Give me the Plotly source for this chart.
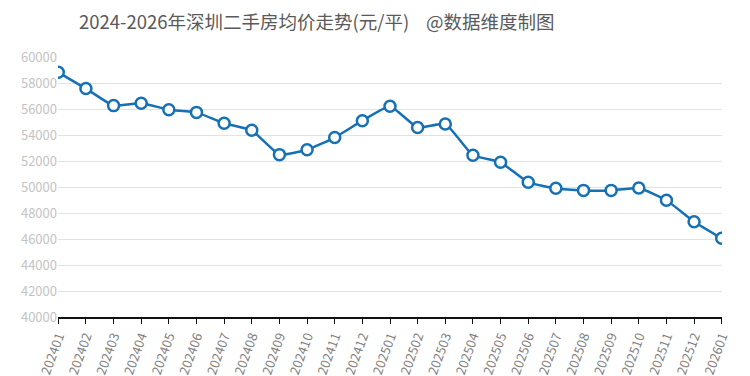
import plotly.graph_objects as go

months = ["202401","202402","202403","202404","202405","202406","202407","202408",
          "202409","202410","202411","202412","202501","202502","202503","202504",
          "202505","202506","202507","202508","202509","202510","202511","202512","202601"]
prices = [58820, 57570, 56260, 56440, 55950, 55740, 54900, 54360,
          52490, 52870, 53800, 55100, 56210, 54570, 54850, 52440,
          51900, 50360, 49900, 49740, 49740, 49920, 48980, 47330, 46050]
y_ticks = list(range(40000, 60001, 2000))
y_labels = [str(v) for v in y_ticks]
title_text = "2024-2026年深圳二手房均价走势(元/平)    @数据维度制图"

fig = go.Figure(go.Scatter(
    x=months, y=prices, mode="lines+markers",
    line=dict(color="#1570b5", width=2.5, shape="spline", smoothing=0.4),
    marker=dict(symbol="circle", size=11, color="white",
                line=dict(color="#1570b5", width=2.5)),
    hoverinfo="x+y",
))

fig.update_layout(
    width=750, height=376,
    margin=dict(l=58, r=28, t=57, b=59, autoexpand=False),
    paper_bgcolor="white", plot_bgcolor="white",
    font=dict(family="Noto Sans CJK SC, Noto Sans, sans-serif"),
    showlegend=False,
    title=dict(text=title_text, x=79/750, xanchor="left", y=1-23/376, yanchor="middle",
               font=dict(size=18.5, color="#5a5a5a")),
    xaxis=dict(type="category", showgrid=False, showline=True, linecolor="#111111", linewidth=1.5,
               ticks="outside", ticklen=5, tickcolor="#111111", tickangle=-70,
               tickfont=dict(size=13, color="#808080"), range=[-0.01, 24.01], automargin=False),
    yaxis=dict(range=[40000, 60000], tickvals=y_ticks, ticktext=y_labels, showgrid=True,
               gridcolor="#e2e2e2", gridwidth=1, zeroline=False, showline=False,
               tickfont=dict(size=13, color="#c4c4c4"), ticks="", automargin=False),
)

fig.write_html("out.html", config={"displayModeBar": False},
               post_script="document.body.style.margin='0';document.body.style.overflow='hidden';")
